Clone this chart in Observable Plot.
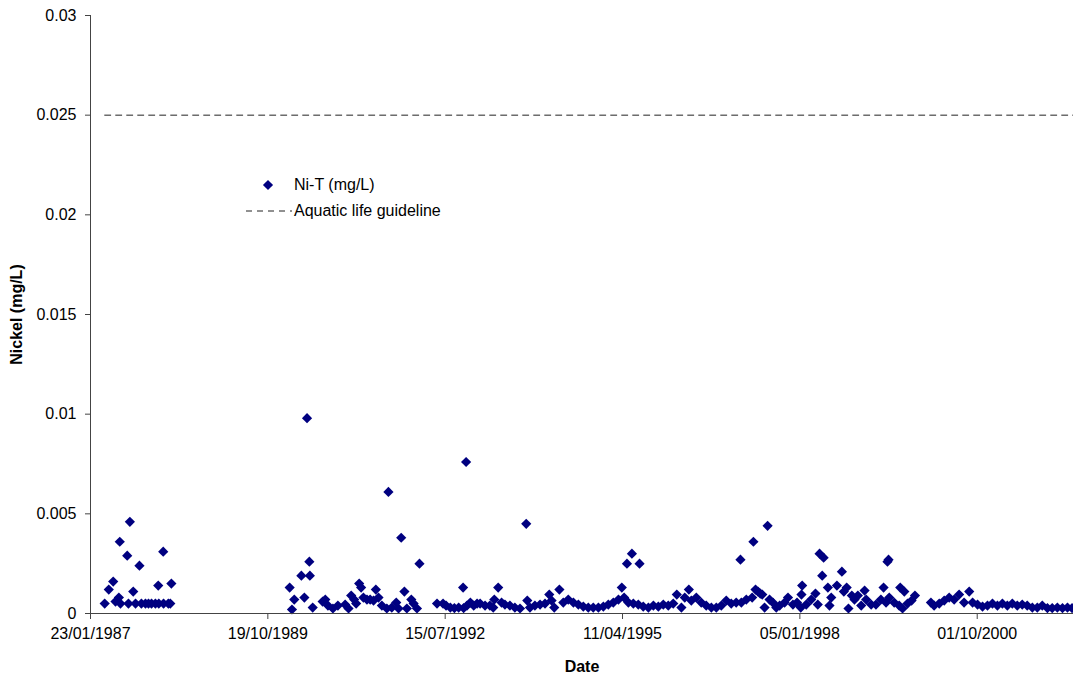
<!DOCTYPE html>
<html>
<head>
<meta charset="utf-8">
<script src="https://cdn.jsdelivr.net/npm/d3@7"></script>
<script src="https://cdn.jsdelivr.net/npm/@observablehq/plot@0.6"></script>
<style>
  body { margin: 0; background: #fff; }
  #chart { position: relative; width: 1073px; height: 676px; font-family: Arial, "Liberation Sans", sans-serif; }
  #chart svg { font-family: Arial, "Liberation Sans", sans-serif; }
  #chart g[aria-label="x-axis label"] text,
  #chart g[aria-label="y-axis label"] text { font-weight: bold; }
  .legend { position: absolute; left: 240px; top: 172px; font-size: 16px; color: #000; }
  .legend .row { display: flex; align-items: center; height: 26px; }
  .legend svg { width: 54px; height: 26px; }
</style>
</head>
<body>
<div id="chart"></div>
<script>
// ---- data ----
const axisStart = "1987-01-23";
const axisEnd = "2002-03-28";
const tickDates = ["1987-01-23", "1989-10-19", "1992-07-15", "1995-04-11", "1998-01-05", "2000-10-01"];
const yTicks = [0, 0.005, 0.01, 0.015, 0.02, 0.025, 0.03];
const guidelineValue = 0.025;
const guidelineDates = ["1987-04-13", "2002-03-28"];
const seriesLabels = ["Ni-T (mg/L)", "Aquatic life guideline"];

const sampleDates = [
  // 1987-1988
  "1987-04-13","1987-05-06","1987-05-31","1987-06-13","1987-07-02","1987-07-07","1987-07-11","1987-08-18","1987-08-25","1987-09-02",
  "1987-09-21","1987-10-04","1987-10-26","1987-11-06","1987-11-29","1987-12-16","1988-01-02","1988-01-24","1988-02-09","1988-02-12",
  "1988-03-08","1988-03-10","1988-04-06","1988-04-17","1988-04-23",
  // 1990-1992
  "1990-02-19","1990-03-04","1990-03-17","1990-04-26","1990-05-13","1990-05-28","1990-06-10","1990-06-13","1990-06-29","1990-08-24",
  "1990-09-08","1990-09-23","1990-10-21","1990-11-18","1990-12-29","1991-01-17","1991-02-01","1991-02-18","1991-03-01","1991-03-18",
  "1991-03-29","1991-04-11","1991-05-01","1991-05-19","1991-06-07","1991-06-20","1991-07-05","1991-07-24","1991-08-21","1991-08-30",
  "1991-09-18","1991-10-13","1991-10-26","1991-11-10","1991-11-28","1991-12-12","1992-01-06","1992-01-19","1992-02-07","1992-02-21",
  "1992-05-30","1992-07-03","1992-07-20","1992-08-13","1992-09-05","1992-09-29","1992-10-24","1992-10-27","1992-11-10","1992-11-15",
  "1992-12-04","1992-12-23","1993-01-11",
  // 1993-1995
  "1993-01-28","1993-02-25","1993-03-24","1993-04-12","1993-04-18","1993-05-10","1993-05-29","1993-06-17","1993-07-15","1993-08-12",
  "1993-09-10","1993-10-15","1993-10-21","1993-11-05","1993-12-03","1994-01-01","1994-01-29","1994-02-22","1994-03-07","1994-03-22",
  "1994-04-20","1994-05-12","1994-06-09","1994-07-08","1994-08-05","1994-09-02","1994-09-30","1994-10-28","1994-11-26","1994-12-24",
  "1995-01-21","1995-02-18","1995-03-19","1995-04-07","1995-04-20","1995-05-06","1995-05-14","1995-06-03","1995-06-11","1995-07-09",
  "1995-07-16","1995-08-06","1995-09-04","1995-10-02","1995-10-30","1995-11-27","1995-12-25","1996-01-22","1996-02-11",
  // 1996-1999
  "1996-03-08","1996-03-27","1996-04-19","1996-05-03","1996-05-31","1996-06-28","1996-07-26","1996-08-24","1996-09-21","1996-10-19",
  "1996-11-16","1996-12-14","1997-01-11","1997-02-04","1997-02-09","1997-03-09","1997-04-11","1997-04-18","1997-04-30","1997-05-14",
  "1997-05-27","1997-06-07","1997-06-20","1997-07-07","1997-07-18","1997-08-06","1997-08-25","1997-09-13","1997-10-11","1997-10-30",
  "1997-11-27","1997-12-20","1998-01-10","1998-01-14","1998-01-18","1998-02-10","1998-03-10","1998-04-03","1998-04-16","1998-04-26",
  "1998-05-11","1998-05-19","1998-06-12","1998-06-21","1998-07-01","1998-08-02","1998-08-30","1998-09-10","1998-09-26","1998-10-06",
  "1998-10-25","1998-11-09","1998-11-28","1998-12-17","1999-01-05","1999-01-14","1999-02-11",
  // 1999-2002
  "1999-03-10","1999-04-07","1999-04-22","1999-05-06","1999-05-14","1999-05-20","1999-05-24","1999-06-21","1999-07-19","1999-07-25",
  "1999-08-07","1999-08-17","1999-09-04","1999-09-27","1999-10-16","2000-01-14","2000-02-01","2000-03-01","2000-03-29","2000-04-26",
  "2000-05-24","2000-06-21","2000-07-19","2000-08-17","2000-09-05","2000-10-03","2000-10-31","2000-11-28","2000-12-26","2001-01-23",
  "2001-02-20","2001-03-20","2001-04-17","2001-05-15","2001-06-12","2001-07-10","2001-08-08","2001-09-05","2001-10-03","2001-11-01",
  "2001-11-28","2001-12-27","2002-01-25","2002-02-22","2002-03-20"
];

const niT = [
  // 1987-1988
  0.0005,0.0012,0.0016,0.0006,0.0008,0.0036,0.0005,0.0029,0.0005,0.0046,
  0.0011,0.0005,0.0024,0.0005,0.0005,0.0005,0.0005,0.0005,0.0014,0.0005,
  0.0031,0.0005,0.0005,0.0005,0.0015,
  // 1990-1992
  0.0013,0.0002,0.0007,0.0019,0.0008,0.0098,0.0026,0.0019,0.0003,0.0006,
  0.0007,0.0004,0.00025,0.0004,0.00045,0.00025,0.0009,0.0007,0.0005,0.0015,
  0.0013,0.0008,0.0007,0.0007,0.00065,0.0012,0.0008,0.0004,0.00025,0.0061,
  0.0003,0.00055,0.00025,0.0038,0.0011,0.00025,0.0007,0.0005,0.00025,0.0025,
  0.0005,0.0005,0.0004,0.0003,0.00027,0.0003,0.0013,0.00027,0.0076,0.0004,
  0.00055,0.0004,0.0005,
  // 1993-1995
  0.0005,0.0004,0.0004,0.0003,0.0007,0.0013,0.00055,0.00045,0.0004,0.0003,
  0.00025,0.0045,0.00065,0.0003,0.0004,0.00045,0.0005,0.00095,0.00065,0.0003,
  0.0012,0.00055,0.0007,0.00055,0.00045,0.00035,0.0003,0.0003,0.0003,0.00035,
  0.00045,0.00055,0.0007,0.0013,0.0008,0.0025,0.00055,0.003,0.0005,0.00045,
  0.0025,0.00035,0.0003,0.0004,0.00035,0.00045,0.0004,0.0005,0.00095,
  // 1996-1999
  0.0003,0.0008,0.0012,0.00065,0.0008,0.00055,0.0004,0.0003,0.0003,0.0004,
  0.00065,0.0005,0.00055,0.0027,0.00055,0.0007,0.0008,0.0036,0.0012,0.0011,
  0.001,0.00095,0.0003,0.0044,0.0007,0.00055,0.0003,0.0004,0.00055,0.0008,
  0.00045,0.00055,0.0003,0.00095,0.0014,0.00045,0.0007,0.001,0.00045,0.003,
  0.0019,0.0028,0.0013,0.0004,0.0008,0.0014,0.0021,0.0011,0.0013,0.00025,
  0.0009,0.0007,0.0009,0.0004,0.00115,0.0007,0.00045,
  // 1999-2002
  0.00045,0.0007,0.0013,0.00055,0.0026,0.0027,0.0008,0.00055,0.0004,0.0013,
  0.00025,0.0011,0.0005,0.00065,0.0009,0.00055,0.0004,0.0005,0.00065,0.0008,
  0.0007,0.00095,0.00055,0.0011,0.00055,0.00045,0.00035,0.0004,0.0005,0.0004,
  0.0005,0.0004,0.0005,0.0004,0.00045,0.0004,0.0003,0.0003,0.0004,0.00027,
  0.00027,0.0003,0.00027,0.0003,0.00027
];

// ---- build ----
const parse = d3.utcParse("%Y-%m-%d");
const samples = sampleDates.map((d, i) => ({date: parse(d), value: niT[i]}));
const guide = guidelineDates.map(d => ({date: parse(d), value: guidelineValue}));
const xStart = parse(axisStart), xEnd = parse(axisEnd);
const fmtDate = d3.utcFormat("%d/%m/%Y");

const chart = Plot.plot({
  width: 1073,
  height: 676,
  marginLeft: 90,
  marginRight: 0,
  marginTop: 15,
  marginBottom: 63,
  style: {fontFamily: "Arial, 'Liberation Sans', sans-serif", fontSize: "16px", color: "#000", background: "#fff", overflow: "visible"},
  x: {type: "utc", domain: [xStart, xEnd]},
  y: {domain: [0, 0.03]},
  marks: [
    Plot.line(guide, {x: "date", y: "value", stroke: "#222", strokeWidth: 1, strokeDasharray: "6,5"}),
    Plot.dot(samples, {x: "date", y: "value", symbol: "diamond2", r: 4.6, fill: "#000080", stroke: "none"}),
    Plot.ruleY([0], {stroke: "#444"}),
    Plot.ruleX([xStart], {stroke: "#444"}),
    Plot.axisX({ticks: tickDates.map(parse), tickFormat: fmtDate, tickSize: 6, tickPadding: 8, stroke: "#444",
      label: "Date", labelAnchor: "center", labelOffset: 58, labelArrow: "none"}),
    Plot.axisY({ticks: yTicks, tickFormat: d => String(+d.toFixed(3)), tickSize: 5, tickPadding: 9, stroke: "#444",
      label: "Nickel (mg/L)", labelAnchor: "center", labelOffset: 80, labelArrow: "none"})
  ]
});
document.getElementById("chart").appendChild(chart);

// legend (inside plot area)
const legend = document.createElement("div");
legend.className = "legend";
legend.innerHTML = `
  <div class="row"><svg><path d="${d3.symbol(d3.symbolDiamond2, 66)()}" transform="translate(28,13)" fill="#000080"/></svg><span>${seriesLabels[0]}</span></div>
  <div class="row"><svg><line x1="6" x2="52" y1="13" y2="13" stroke="#222" stroke-dasharray="6,5"/></svg><span>${seriesLabels[1]}</span></div>`;
document.getElementById("chart").appendChild(legend);
</script>
</body>
</html>
